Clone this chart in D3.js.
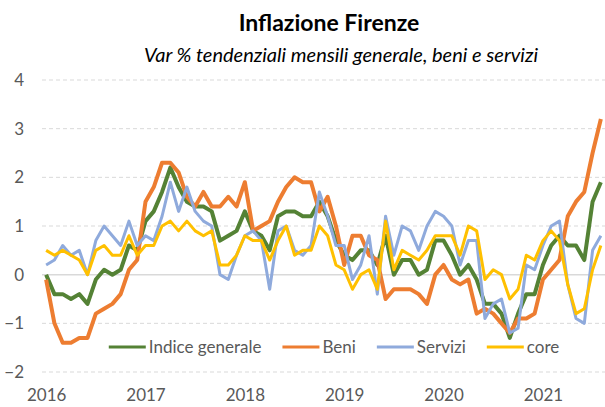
<!DOCTYPE html>
<html>
<head>
<meta charset="utf-8">
<script src="https://cdn.jsdelivr.net/npm/d3@7"></script>
<style>
  body { margin: 0; background: #fff; }
  svg { display: block; font-family: Lato, "Noto Sans", sans-serif; }
</style>
</head>
<body>
<svg id="chart" width="605" height="407"></svg>
<script>
// data: monthly yoy % change, Jan 2016 - Aug 2021
const years = ["2016", "2017", "2018", "2019", "2020", "2021"];
const seriesNames = ["Indice generale", "Beni", "Servizi", "core"];

const generale = [0.0, -0.4, -0.4, -0.5, -0.4, -0.6, -0.1, 0.1, 0.0, 0.1, 0.6, 0.5,
  1.1, 1.3, 1.7, 2.2, 1.8, 1.5, 1.4, 1.4, 1.3, 0.7, 0.8, 0.9,
  1.3, 0.9, 0.8, 0.5, 1.2, 1.3, 1.3, 1.2, 1.2, 1.5, 1.2, 0.7,
  0.4, 0.3, 0.5, 0.5, 0.2, 0.8, 0.0, 0.3, 0.3, 0.0, 0.1, 0.7,
  0.7, 0.4, 0.0, 0.2, -0.1, -0.6, -0.6, -0.8, -1.3, -0.8, -0.4, -0.4,
  0.2, 0.6, 0.8, 0.6, 0.6, 0.3, 1.5, 1.9];

const beni = [-0.1, -1.0, -1.4, -1.4, -1.3, -1.3, -0.8, -0.7, -0.6, -0.4, 0.1, 0.3,
  1.5, 1.8, 2.3, 2.3, 2.1, 1.6, 1.4, 1.7, 1.4, 1.4, 1.6, 1.4,
  1.9, 0.9, 1.0, 1.1, 1.5, 1.8, 2.0, 1.9, 1.9, 1.3, 1.6, 1.0,
  0.2, 0.8, 0.8, 0.4, 0.3, -0.5, -0.3, -0.3, -0.3, -0.4, -0.6, 0.0,
  0.2, -0.1, -0.2, -0.1, -0.8, -0.7, -0.8, -1.0, -1.2, -0.9, -0.9, -0.8,
  -0.1, 0.1, 0.3, 1.2, 1.5, 1.7, 2.5, 3.2];

const servizi = [0.2, 0.3, 0.6, 0.4, 0.5, 0.0, 0.7, 1.0, 0.8, 0.6, 1.1, 0.6,
  0.8, 0.7, 1.2, 1.9, 1.3, 1.8, 1.3, 1.1, 1.0, 0.0, -0.1, 0.4,
  0.8, 0.9, 0.7, -0.3, 0.9, 1.0, 0.5, 0.4, 0.6, 1.7, 1.2, 0.6,
  0.6, -0.1, 0.2, 0.8, -0.4, 1.2, 0.4, 1.0, 0.9, 0.5, 1.0, 1.3,
  1.2, 1.0, 0.2, 0.7, 0.7, -0.9, -0.6, -0.5, -1.2, -1.1, 0.2, 0.1,
  0.6, 1.0, 1.1, -0.2, -0.9, -1.0, 0.5, 0.8];

const core = [0.5, 0.4, 0.5, 0.4, 0.3, 0.0, 0.5, 0.6, 0.4, 0.4, 0.8, 0.4,
  0.6, 0.6, 1.0, 1.1, 0.9, 1.1, 0.9, 0.8, 0.9, 0.2, 0.2, 0.4,
  0.8, 0.7, 0.7, 0.3, 0.7, 1.0, 0.4, 0.5, 0.5, 1.0, 0.8, 0.2,
  0.1, -0.3, 0.0, 0.1, -0.3, 1.1, 0.1, 0.5, 0.4, 0.3, 0.5, 0.8,
  0.8, 0.8, 0.4, 1.0, 0.9, -0.1, 0.1, 0.0, -0.5, -0.3, 0.4, 0.3,
  0.7, 0.9, 0.7, -0.2, -0.8, -0.7, 0.1, 0.6];

const yTicks = [-2, -1, 0, 1, 2, 3, 4];

// styles
const colors = ["#548235", "#ED7D31", "#8FAADC", "#FFC000"];
const widths = [4, 4, 3, 3];
const textColor = "#595959";

const svg = d3.select("#chart");

const x = d3.scaleLinear()
  .domain([-0.5, generale.length - 0.5])
  .range([42, 605]);

const y = d3.scaleLinear()
  .domain([-2, 4])
  .range([372, 80]);

// gridlines
svg.append("g")
  .selectAll("line")
  .data(yTicks)
  .join("line")
    .attr("x1", 42)
    .attr("x2", 605)
    .attr("y1", d => y(d))
    .attr("y2", d => y(d))
    .attr("stroke", "#d9d9d9")
    .attr("stroke-width", d => d === 0 ? 1.5 : 1)
    .attr("stroke-dasharray", d => d === 0 ? null : "4,3");

// y axis
const yAxis = svg.append("g")
  .attr("transform", "translate(24,0)")
  .call(d3.axisLeft(y).tickValues(yTicks).tickSize(0).tickPadding(0).tickFormat(d3.format("d")));
yAxis.select(".domain").remove();
yAxis.selectAll("text")
  .attr("font-family", "Lato, sans-serif")
  .attr("font-size", 17)
  .attr("fill", textColor);

// x axis
const xAxis = svg.append("g")
  .attr("transform", "translate(0,389)")
  .call(d3.axisBottom(x)
    .tickValues(years.map((d, i) => i * 12))
    .tickSize(0)
    .tickPadding(0)
    .tickFormat((d, i) => years[i]));
xAxis.select(".domain").remove();
xAxis.selectAll("text")
  .attr("font-family", "Lato, sans-serif")
  .attr("font-size", 17)
  .attr("fill", textColor);

// lines
const allSeries = [generale, beni, servizi, core];
const line = d3.line()
  .x((d, i) => x(i))
  .y(d => y(d));

svg.append("g")
  .selectAll("path")
  .data(allSeries)
  .join("path")
    .attr("d", line)
    .attr("fill", "none")
    .attr("stroke", (d, i) => colors[i])
    .attr("stroke-width", (d, i) => widths[i])
    .attr("stroke-linejoin", "round");

// legend
const legend = svg.append("g").attr("transform", "translate(0,347)");
const items = legend.selectAll("g")
  .data(seriesNames)
  .join("g");
items.append("line")
  .attr("x1", 0).attr("x2", 37)
  .attr("stroke", (d, i) => colors[i])
  .attr("stroke-width", 3);
items.append("text")
  .attr("x", 40)
  .attr("dy", "0.35em")
  .attr("font-size", 17)
  .attr("fill", textColor)
  .text(d => d);

let pos = 0;
const offsets = [];
items.each(function () {
  offsets.push(pos);
  pos += 40 + d3.select(this).select("text").node().getComputedTextLength() + 21;
});
const total = pos - 21;
const start = 334 - total / 2;
items.attr("transform", (d, i) => `translate(${start + offsets[i]},0)`);

// titles
svg.append("text")
  .attr("x", 329)
  .attr("y", 31)
  .attr("text-anchor", "middle")
  .attr("font-size", 23)
  .attr("font-weight", "bold")
  .attr("fill", "#000")
  .text("Inflazione Firenze");

svg.append("text")
  .attr("x", 341)
  .attr("y", 62)
  .attr("text-anchor", "middle")
  .attr("font-size", 20)
  .attr("font-style", "italic")
  .attr("fill", "#000")
  .text("Var % tendenziali mensili generale, beni e servizi");
</script>
</body>
</html>
